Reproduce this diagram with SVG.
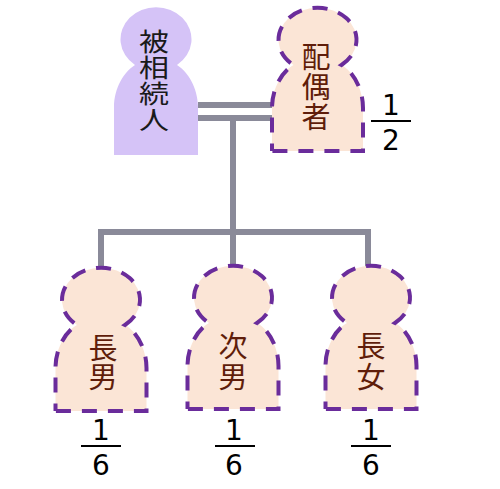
<svg xmlns="http://www.w3.org/2000/svg" width="500" height="489" viewBox="0 0 500 489">
<style>
.conn{fill:none;stroke:#8a8a99;stroke-width:6}
.p{fill:#fbe5d6;stroke:#6a2c9b;stroke-width:4;stroke-dasharray:15 11;stroke-dashoffset:7.500}
.l{font-family:"Noto Sans CJK JP",sans-serif;font-size:29px;fill:#5f1d0a;text-anchor:middle}
.k{font-family:"Noto Sans CJK JP",sans-serif;font-size:25px;fill:#1a1a1a;text-anchor:middle}
.n{font-family:"DejaVu Sans",sans-serif;font-size:28px;fill:#000;text-anchor:middle}
.b{stroke:#000;stroke-width:2}
</style>
<defs>
<path id="person" d="M-45.500,143 V100 C-45.500,80 -35,63 -24,57 A39,32 0 1 1 24,57 C35,63 45.500,80 45.500,100 V143 Z"/>
</defs>
<g id="connectors" class="conn">
<path d="M198,105H272M198,118H272"/>
<path d="M233,118V267"/>
<path d="M101,268V232H368V267"/>
</g>
<g id="hisouzokunin">
<path fill="#d5c3f7" d="M114,155 V107 C114,88 124,72 135,65 A35.500,32 0 1 1 177,65 C188,72 198,88 198,107 V155 Z"/>
<text class="k" transform="translate(154,51) scale(1.2,1)">被</text>
<text class="k" transform="translate(154,77) scale(1.2,1)">相</text>
<text class="k" transform="translate(154,103) scale(1.2,1)">続</text>
<text class="k" transform="translate(154,129) scale(1.2,1)">人</text>
</g>
<g id="haiguusha">
<use href="#person" class="p" x="317.500" y="8"/>
<text class="l" x="316" y="68">配</text>
<text class="l" x="316" y="98">偶</text>
<text class="l" x="316" y="128">者</text>
<text class="n" x="391" y="115">1</text>
<line class="b" x1="371" x2="411" y1="121" y2="121"/>
<text class="n" x="391" y="150">2</text>
</g>
<g id="chounan">
<use href="#person" class="p" x="101" y="268"/>
<text class="l" x="103" y="359">長</text>
<text class="l" x="103" y="388">男</text>
<text class="n" x="101" y="440">1</text>
<line class="b" x1="81" x2="121" y1="446" y2="446"/>
<text class="n" x="101" y="475">6</text>
</g>
<g id="jinan">
<use href="#person" class="p" x="233" y="266"/>
<text class="l" x="233" y="357">次</text>
<text class="l" x="233" y="388">男</text>
<text class="n" x="234" y="440">1</text>
<line class="b" x1="215" x2="255" y1="446" y2="446"/>
<text class="n" x="234" y="475">6</text>
</g>
<g id="chouzyo">
<use href="#person" class="p" x="371" y="266"/>
<text class="l" x="371" y="357">長</text>
<text class="l" x="371" y="388">女</text>
<text class="n" x="371" y="440">1</text>
<line class="b" x1="351" x2="391" y1="446" y2="446"/>
<text class="n" x="371" y="475">6</text>
</g>
</svg>
